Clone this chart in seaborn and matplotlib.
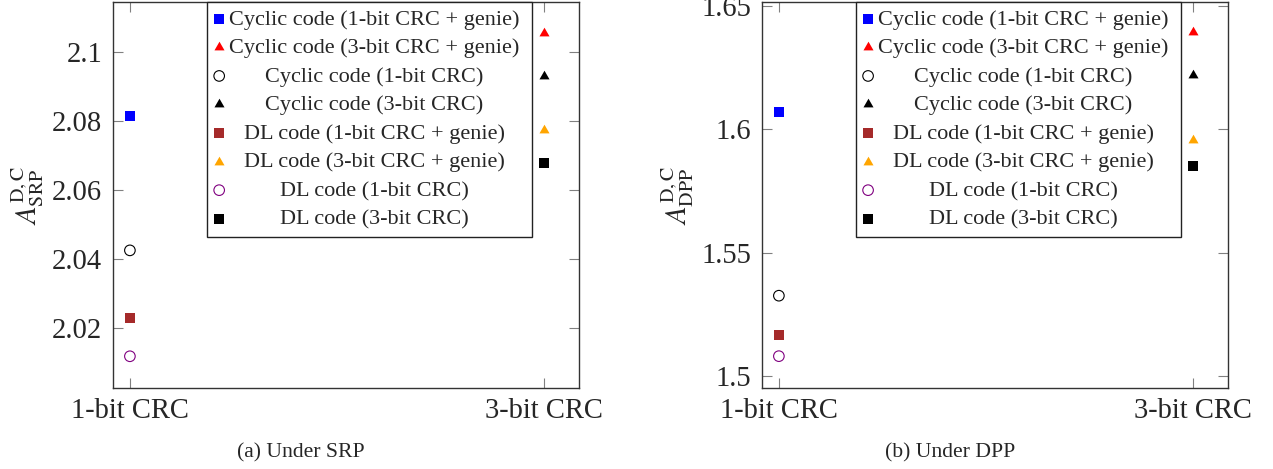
import matplotlib
matplotlib.use("Agg")
import matplotlib.pyplot as plt
import pandas as pd
import seaborn as sns
from matplotlib.offsetbox import DrawingArea, VPacker

# x categories
crc_labels = ["1-bit CRC", "3-bit CRC"]

series_names = [
    "Cyclic code (1-bit CRC + genie)",
    "Cyclic code (3-bit CRC + genie)",
    "Cyclic code (1-bit CRC)",
    "Cyclic code (3-bit CRC)",
    "DL code (1-bit CRC + genie)",
    "DL code (3-bit CRC + genie)",
    "DL code (1-bit CRC)",
    "DL code (3-bit CRC)",
]
series_crc = ["1-bit CRC", "3-bit CRC", "1-bit CRC", "3-bit CRC",
              "1-bit CRC", "3-bit CRC", "1-bit CRC", "3-bit CRC"]

# values
srp_values = [2.0815, 2.1057, 2.0426, 2.0931, 2.0229, 2.0775, 2.0119, 2.0678]
dpp_values = [1.6069, 1.6393, 1.5326, 1.6220, 1.5167, 1.5957, 1.5081, 1.5853]

srp_ticks = [2.02, 2.04, 2.06, 2.08, 2.1]
dpp_ticks = [1.5, 1.55, 1.6, 1.65]

# pgfplots style equilateral triangle
TRI = [(0, 1), (-0.866, -0.5), (0.866, -0.5)]
markers = ["s", TRI, "o", TRI, "s", TRI, "o", "s"]
colors = ["blue", "red", "black", "black", "#a52a2a", "orange", "purple", "black"]
hollow = [False, False, True, False, False, False, True, False]
sizes = {"s": 58, "o": 58}
TRI_SIZE = 70

sns.set_style("ticks")
plt.rcParams["font.family"] = ["Liberation Serif", "DejaVu Serif"]
plt.rcParams["mathtext.fontset"] = "stix"

TICK_FS = 20.6
LEG_FS = 16


def center_legend_text(leg, renderer):
    # pgfplots centres the legend text; matplotlib left aligns it
    col = leg._legend_handle_box.get_children()[0]
    rows = col.get_children()
    widths = [r.get_children()[1].get_bbox(renderer).width for r in rows]
    wmax = max(widths) / renderer.points_to_pixels(1.0)
    for r in rows:
        handle, text = r.get_children()
        spacer = DrawingArea(wmax, 0)
        r._children = [handle,
                       VPacker(pad=0, sep=0, align="center", children=[text, spacer]),
                       DrawingArea(0.3, 0)]


def draw_panel(ax, values, ticks, ylim, ylabel):
    df = pd.DataFrame({"crc": series_crc, "value": values, "series": series_names})
    for i, name in enumerate(series_names):
        sub = df[df["series"] == name]
        m = markers[i]
        s = TRI_SIZE if m is TRI else sizes[m]
        if hollow[i]:
            sns.scatterplot(data=sub, x="crc", y="value", marker=m, s=s,
                            color=colors[i], facecolor="none",
                            edgecolor=colors[i], linewidth=0.8,
                            label=name, legend=False, ax=ax)
        else:
            sns.scatterplot(data=sub, x="crc", y="value", marker=m, s=s,
                            color=colors[i], edgecolor=colors[i], linewidth=0,
                            label=name, legend=False, ax=ax)

    ax.set_xlim(-0.042, 1.084)
    ax.set_ylim(*ylim)
    ax.set_yticks(ticks)
    ax.set_yticklabels([f"{t:g}" for t in ticks])
    ax.set_xlabel("")
    ax.set_ylabel(ylabel, fontsize=TICK_FS, labelpad=4)
    ax.tick_params(axis="both", direction="in", top=True, right=True,
                   length=7.2, width=0.8, color="#808080",
                   labelsize=TICK_FS)
    ax.tick_params(axis="x", pad=7)
    ax.tick_params(axis="y", pad=7.5)
    for sp in ax.spines.values():
        sp.set_color("#333333")
        sp.set_linewidth(1.0)

    leg = ax.legend(loc="upper left", bbox_to_anchor=(0.202, 1.0),
                    borderaxespad=0, frameon=True, fancybox=False,
                    edgecolor="#222222", framealpha=1, fontsize=LEG_FS,
                    borderpad=0.32, handlelength=0.48, handletextpad=0.21,
                    labelspacing=0.36, scatterpoints=1, markerscale=1.0)
    leg.get_frame().set_linewidth(1.0)
    return leg


fig = plt.figure(figsize=(12.73, 4.69), dpi=100)
ax1 = fig.add_axes([112.5 / 1273, 81 / 469, 466.5 / 1273, 386 / 469])
ax2 = fig.add_axes([761.5 / 1273, 81 / 469, 466 / 1273, 386 / 469])

leg1 = draw_panel(ax1, srp_values, srp_ticks, (2.0027, 2.1146),
                  r"$A^{\mathrm{D,C}}_{\mathrm{SRP}}$")
leg2 = draw_panel(ax2, dpp_values, dpp_ticks, (1.4952, 1.6516),
                  r"$A^{\mathrm{D,C}}_{\mathrm{DPP}}$")

fig.text(301 / 1273, 16 / 469, "(a) Under SRP", ha="center", va="center", fontsize=15.6)
fig.text(950 / 1273, 16 / 469, "(b) Under DPP", ha="center", va="center", fontsize=15.6)

fig.canvas.draw()
renderer = fig.canvas.get_renderer()
center_legend_text(leg1, renderer)
center_legend_text(leg2, renderer)

fig.savefig("out.png", dpi=100)
